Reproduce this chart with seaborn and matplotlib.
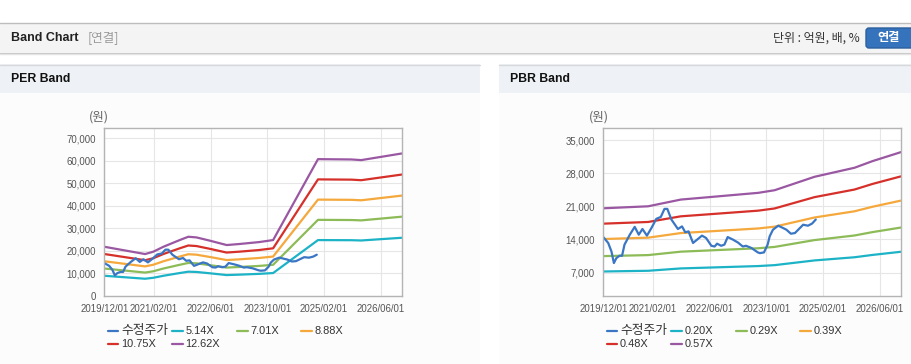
import matplotlib
matplotlib.use("Agg")
import matplotlib.pyplot as plt
import seaborn as sns
import numpy as np
import pandas as pd
from matplotlib.patches import Rectangle, FancyBboxPatch
from matplotlib.lines import Line2D

sns.set_style("white")
plt.rcParams['font.family'] = ['Liberation Sans', 'Noto Sans CJK KR', 'DejaVu Sans']

# ---------------- data ----------------
tick_labels = ["2019/12/01", "2021/02/01", "2022/06/01", "2023/10/01", "2025/02/01", "2026/06/01"]
tick_pos = [0, 12.2, 26.1, 40.0, 53.9, 67.8]

# adjusted share price (수정주가), month index
price_x = [0, 1.2, 2.0, 2.6, 3.2, 4.0, 4.6, 5.2, 6.5, 7.7, 8.7, 9.6, 10.7, 11.8, 13.0, 14.1, 15.0,
           15.7, 16.7, 18.3, 19.3, 20.1, 20.9, 22.0, 23.0, 24.2, 25.2, 26.5, 27.3, 27.9, 28.9, 29.7,
           30.5, 31.8, 33.0, 34.2, 35.0, 36.3, 37.9, 38.4, 39.4, 40.3, 40.8, 41.6, 42.9, 44.1, 44.9,
           46.0, 47.0, 48.2, 49.0, 50.2, 51.2, 52.1]
price_y = [14500, 13250, 11450, 9000, 10050, 10550, 10550, 12900, 15000, 16650, 15000, 16200, 14800,
           16400, 18350, 18750, 20450, 20450, 18200, 16200, 16750, 15500, 15700, 13250, 13950, 14800,
           14300, 12650, 12500, 13100, 12650, 12900, 14500, 13950, 13350, 12500, 12650, 12200, 11250,
           11100, 11250, 12900, 14650, 16050, 16900, 16400, 16050, 15200, 15350, 16400, 17100, 16900,
           17350, 18200]

# PER band: EPS path and multiples
eps_x = [0, 10, 12, 14.5, 18.5, 20.6, 22.6, 26, 30, 33, 38, 41.4, 52.4, 60.6, 63, 73]
eps_y = [1723, 1466, 1548, 1723, 1959, 2075, 2052, 1933, 1783, 1818, 1888, 1959, 4807, 4796, 4773, 5008]
per_mult = [5.14, 7.01, 8.88, 10.75, 12.62]
per_labels = ["5.14X", "7.01X", "8.88X", "10.75X", "12.62X"]

# PBR band: BPS path and multiples
bps_x = [0, 11, 19, 25.6, 38, 42, 51.8, 61.6, 66, 73]
bps_y = [36098, 36842, 39333, 40193, 41830, 42797, 47782, 51132, 53588, 56937]
pbr_mult = [0.20, 0.29, 0.39, 0.48, 0.57]
pbr_labels = ["0.20X", "0.29X", "0.39X", "0.48X", "0.57X"]

price_label = "수정주가"
colors = ["#3a76c4", "#1db3c7", "#8cbb57", "#f5a83c", "#d6302a", "#9a57a2"]

# ---------------- figure ----------------
W, H = 912, 364
fig = plt.figure(figsize=(W / 100, H / 100), dpi=100)
fig.patch.set_facecolor("white")

bg = fig.add_axes([0, 0, 1, 1], zorder=-10)
bg.set_xlim(0, W)
bg.set_ylim(H, 0)
bg.axis("off")

KR = ['Noto Sans CJK KR', 'DejaVu Sans']

# top header bar
bg.add_patch(Rectangle((0, 23), W, 29, fc="#f4f4f4", ec="none"))
bg.plot([0, W], [22.5, 22.5], color="#bdbdbd", lw=1)
bg.plot([0, W], [52.5, 52.5], color="#c6c6c6", lw=1)
bg.plot([0, W], [53.5, 53.5], color="#e4e4e4", lw=1)
bg.text(11, 38, "Band Chart", fontsize=9, fontweight="bold", color="#222222", va="center")
bg.text(88, 38, "[연결]", fontsize=9, color="#9a9a9a", va="center", family=KR)
bg.text(860, 38, "단위 : 억원, 배, %", fontsize=8.6, color="#333333", va="center", ha="right",
        family=KR)
bg.add_patch(FancyBboxPatch((866, 28), 52, 20, boxstyle="round,pad=0,rounding_size=3",
                            fc="#3574bd", ec="#2a5f9e", lw=1))
bg.text(889, 37.8, "연결", fontsize=8.8, fontweight="bold", color="white", va="center",
        ha="center", family=KR)

# panels
for (px, pw, title) in [(0, 480, "PER Band"), (499, 413, "PBR Band")]:
    bg.add_patch(Rectangle((px, 64), pw, 29, fc="#eef2f6", ec="none"))
    bg.add_patch(Rectangle((px, 93), pw, H - 93, fc="#fcfcfc", ec="none"))
    bg.plot([px, px + pw], [64.5, 64.5], color="#d8d8d8", lw=1)
    bg.text(px + 11, 79, title, fontsize=8.8, fontweight="bold", color="#111111", va="center")


def make_axes(left_px):
    ax = fig.add_axes([left_px / W, 1 - 295.7 / H, 297.7 / W, 167.7 / H])
    ax.set_facecolor("white")
    return ax


def style_axes(ax, ylim, yticks):
    ax.set_xlim(0, 73)
    ax.set_ylim(*ylim)
    ax.set_yticks(yticks)
    ax.set_yticklabels([f"{v:,}" for v in yticks])
    ax.set_xticks(tick_pos)
    ax.set_xticklabels(tick_labels)
    ax.tick_params(axis="both", labelsize=6.9, colors="#555555", length=4, width=0.8,
                   direction="out", pad=2)
    ax.tick_params(axis="both", color="#b0b0b0")
    ax.grid(True, color="#e6e6e6", lw=0.8)
    ax.set_axisbelow(True)
    for s in ax.spines.values():
        s.set_color("#b4b4b4")
        s.set_linewidth(1)
    ax.set_xlabel("")
    ax.set_ylabel("")


def draw_legend(left_px, labels):
    for i, (lab, c) in enumerate(zip(labels, colors)):
        col, row = i % 4, i // 4
        x0 = left_px + 3.4 + col * 64.6
        y0 = 330.7 + row * 13.3
        bg.add_line(Line2D([x0, x0 + 10.7], [y0, y0], color=c, lw=1.6, zorder=5))
        size = 9.2 if lab == price_label else 7.9
        bg.text(x0 + 13.3, y0, lab, fontsize=size, color="#333333", va="center", zorder=5,
                family=['Liberation Sans', 'Noto Sans CJK KR', 'DejaVu Sans'])


# ---- PER ----
ax1 = make_axes(104.3)
for m, c in zip(per_mult, colors[1:]):
    sns.lineplot(x=eps_x, y=[e * m for e in eps_y], ax=ax1, color=c, lw=1.6)
sns.lineplot(x=price_x, y=price_y, ax=ax1, color=colors[0], lw=1.6)
style_axes(ax1, (0, 74500), list(range(0, 70001, 10000)))
bg.text(99, 117, "(원)", fontsize=9, color="#666666", ha="center", va="center", family=KR)
draw_legend(104.3, [price_label] + per_labels)

# ---- PBR ----
ax2 = make_axes(603.3)
for m, c in zip(pbr_mult, colors[1:]):
    sns.lineplot(x=bps_x, y=[b * m for b in bps_y], ax=ax2, color=c, lw=1.6)
sns.lineplot(x=price_x, y=price_y, ax=ax2, color=colors[0], lw=1.6)
style_axes(ax2, (2100, 37550), list(range(7000, 35001, 7000)))
bg.text(599, 117, "(원)", fontsize=9, color="#666666", ha="center", va="center", family=KR)
draw_legend(603.3, [price_label] + pbr_labels)

fig.savefig("out.png", dpi=100, facecolor="white")
